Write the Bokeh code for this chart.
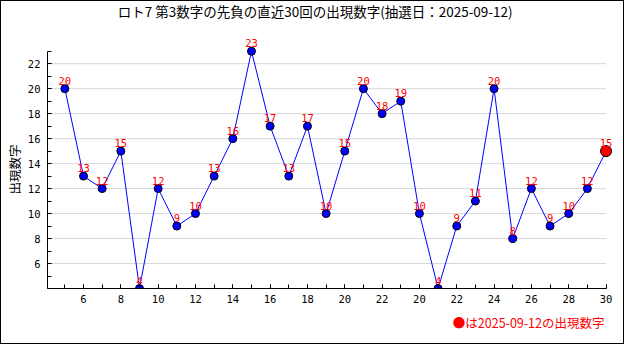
from bokeh.plotting import figure
from bokeh.models import ColumnDataSource, LabelSet, Label, FixedTicker, Range1d, Title
from bokeh.embed import file_html
from bokeh.resources import INLINE
from bokeh.core.properties import value

# ---- data ----
draw_index = list(range(1, 31))
values = [20, 13, 12, 15, 4, 12, 9, 10, 13, 16, 23, 17, 13, 17, 10,
          15, 20, 18, 19, 10, 4, 9, 11, 20, 8, 12, 9, 10, 12, 15]
x_tick_positions = [2, 4, 6, 8, 10, 12, 14, 16, 18, 20, 22, 24, 26, 28, 30]
x_tick_labels = ["6", "8", "10", "12", "14", "16", "18", "20", "22",
                 "20", "22", "24", "26", "28", "30"]
y_ticks = [6, 8, 10, 12, 14, 16, 18, 20, 22]
y_minor_ticks = list(range(4, 24))
title_text = "ロト7 第3数字の先負の直近30回の出現数字(抽選日：2025-09-12)"
y_label_text = "出現数字"
note_text = "●は2025-09-12の出現数字"

JP = "Noto Sans CJK JP"
MONO = "DejaVu Sans Mono"

X0, X1 = 0.07, 30      # axis extent (data)
Y0, Y1 = 4, 23

p = figure(width=624, height=344, output_backend="svg", toolbar_location=None,
           x_range=Range1d(X0, 30.4), y_range=Range1d(Y0, 26.82),
           min_border_left=40, min_border_right=12,
           min_border_top=2, min_border_bottom=57)
p.styles = {"border": "1px solid black"}
p.outline_line_color = None
p.background_fill_color = "white"
p.border_fill_color = "white"
p.title.visible = False

# title drawn inside the (extended) frame area
p.add_layout(Label(x=14.41, y=26.18, text=title_text, text_align="center",
                   text_baseline="middle", text_font=JP,
                   text_font_size="13.5px", text_color="black"))

note = Title(text=note_text, align="right", text_font=JP,
             text_font_size="12.5px", text_font_style="normal",
             text_color="red", offset=9)
p.add_layout(note, "below")

# y-axis caption as a left-side title, placed at the centre of the axis extent
ylab = Title(text=y_label_text, align="left", text_font=JP,
             text_font_size="12.5px", text_font_style="normal",
             text_color="black", offset=94, standoff=2)
p.add_layout(ylab, "left")

# axes
p.xaxis.ticker = FixedTicker(ticks=x_tick_positions, minor_ticks=draw_index)
p.xaxis.major_label_overrides = {pos: lab for pos, lab in zip(x_tick_positions, x_tick_labels)}
p.xaxis.bounds = (X0, X1)
p.yaxis.ticker = FixedTicker(ticks=y_ticks, minor_ticks=y_minor_ticks)
p.yaxis.bounds = (Y0, Y1)
for ax in (p.xaxis, p.yaxis):
    ax.axis_line_color = "black"
    ax.major_tick_line_color = "black"
    ax.minor_tick_line_color = "black"
    ax.major_tick_in = 4
    ax.major_tick_out = 0
    ax.minor_tick_in = 4
    ax.minor_tick_out = 0
    ax.major_label_text_font = MONO
    ax.major_label_text_font_size = "10.5px"
    ax.major_label_text_color = "black"
p.yaxis.major_label_standoff = 7
p.xaxis.major_label_standoff = 6

p.xgrid.visible = False
p.ygrid.visible = False
n = len(y_ticks)
p.segment(x0=[X0] * n, y0=y_ticks, x1=[X1] * n, y1=y_ticks,
          line_color="#d8d8d8", line_width=1, level="underlay")

src = ColumnDataSource(dict(x=draw_index, y=values, label=[str(v) for v in values]))
p.line("x", "y", source=src, line_color="blue", line_width=1)
p.scatter(draw_index[:-1], values[:-1], size=8, fill_color="blue", line_color="black")
p.scatter(draw_index[-1:], values[-1:], size=11, fill_color="red", line_color="black")

labels = LabelSet(x="x", y="y", text="label", source=src, y_offset=4,
                  text_align="center", text_baseline="bottom", text_color="red",
                  text_font=value(MONO), text_font_size="10.5px")
p.add_layout(labels)

open("out.html", "w").write(file_html(p, INLINE))
